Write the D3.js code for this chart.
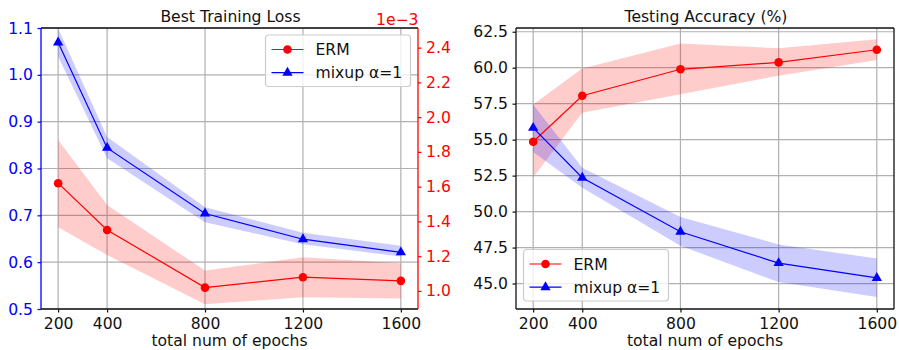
<!DOCTYPE html>
<html>
<head>
<meta charset="utf-8">
<script src="https://cdn.jsdelivr.net/npm/d3@7"></script>
<style>
  body { margin: 0; background: #fff; }
  svg text { font-family: "DejaVu Sans", sans-serif; }
</style>
</head>
<body>
<div id="chart"></div>
<script>
// epochs on the x axis (both panels)
const epochs = [200, 400, 800, 1200, 1600];
const xTicks = [200, 400, 800, 1200, 1600];

// left panel: best training loss
const lossMixup = [1.069, 0.844, 0.704, 0.649, 0.621];
const lossMixupLow = [1.039, 0.822, 0.685, 0.638, 0.612];
const lossMixupHigh = [1.099, 0.867, 0.717, 0.663, 0.635];
// ERM loss is on the twin axis, in units of 1e-3
const lossErm = [1.62, 1.351, 1.019, 1.079, 1.058];
const lossErmLow = [1.366, 1.207, 0.923, 0.964, 0.956];
const lossErmHigh = [1.869, 1.495, 1.117, 1.194, 1.159];
const lossTicks = [0.5, 0.6, 0.7, 0.8, 0.9, 1.0, 1.1];
const lossErmTicks = [1.0, 1.2, 1.4, 1.6, 1.8, 2.0, 2.2, 2.4];

// right panel: testing accuracy (%)
const accErm = [54.85, 58.05, 59.89, 60.37, 61.25];
const accErmLow = [52.37, 56.87, 58.15, 59.45, 60.53];
const accErmHigh = [57.45, 59.95, 61.69, 61.35, 61.97];
const accMixup = [55.82, 52.35, 48.6, 46.42, 45.39];
const accMixupLow = [54.15, 51.65, 47.62, 45.1, 44.07];
const accMixupHigh = [57.45, 53.05, 49.63, 47.72, 46.74];
const accTicks = [45.0, 47.5, 50.0, 52.5, 55.0, 57.5, 60.0, 62.5];

const seriesNames = ['ERM', 'mixup \u03b1=1'];

const RED = '#ff0000';
const BLUE = '#0000ff';
const INK = '#111';
const FS = 15.6;

const svg = d3.select('#chart').append('svg')
    .attr('width', 899)
    .attr('height', 350);

let clipId = 0;

function makePanel(box, title) {
    const g = svg.append('g');
    const x = d3.scaleLinear().domain([130, 1670]).range([box.x0, box.x1]);
    const id = 'clip' + (clipId++);
    svg.append('clipPath').attr('id', id)
        .append('rect')
        .attr('x', box.x0).attr('y', box.y0)
        .attr('width', box.x1 - box.x0).attr('height', box.y1 - box.y0);

    // vertical grid
    g.append('g').selectAll('line')
        .data(xTicks)
        .enter().append('line')
        .attr('x1', d => x(d)).attr('x2', d => x(d))
        .attr('y1', box.y0).attr('y2', box.y1)
        .attr('stroke', '#b0b0b0').attr('stroke-width', 1.2);

    // title
    g.append('text')
        .attr('x', (box.x0 + box.x1) / 2 + 1)
        .attr('y', 21.5)
        .attr('text-anchor', 'middle')
        .attr('font-size', FS)
        .attr('fill', INK)
        .text(title);

    // x axis
    const xAxis = g.append('g')
        .attr('transform', `translate(0,${box.y1})`)
        .call(d3.axisBottom(x).tickValues(xTicks).tickFormat(d3.format('d'))
            .tickSize(3.5).tickPadding(5.4).tickSizeOuter(0));
    xAxis.select('.domain').remove();
    xAxis.selectAll('text').attr('font-size', FS).attr('fill', INK);
    xAxis.selectAll('line').attr('stroke', INK).attr('stroke-width', 1.2);

    g.append('text')
        .attr('x', (box.x0 + box.x1) / 2)
        .attr('y', 346)
        .attr('text-anchor', 'middle')
        .attr('font-size', FS)
        .attr('fill', INK)
        .text('total num of epochs');

    return { g, x, clip: `url(#${id})` };
}

function yGrid(p, y, ticks, box) {
    p.g.append('g').selectAll('line')
        .data(ticks)
        .enter().append('line')
        .attr('x1', box.x0).attr('x2', box.x1)
        .attr('y1', d => y(d)).attr('y2', d => y(d))
        .attr('stroke', '#b0b0b0').attr('stroke-width', 1.2);
}

function yAxis(p, axisFn, y, ticks, box, color, side) {
    const a = p.g.append('g')
        .attr('transform', `translate(${side === 'left' ? box.x0 : box.x1},0)`)
        .call(axisFn(y).tickValues(ticks).tickFormat(d3.format('.1f'))
            .tickSize(3.5).tickPadding(4.5).tickSizeOuter(0));
    a.select('.domain').remove();
    a.selectAll('text').attr('font-size', FS).attr('fill', color);
    a.selectAll('line').attr('stroke', color).attr('stroke-width', 1.2);
}

function band(p, y, low, high, color) {
    const area = d3.area()
        .x((d, i) => p.x(epochs[i]))
        .y0((d, i) => y(low[i]))
        .y1((d, i) => y(high[i]));
    p.g.append('path')
        .datum(epochs)
        .attr('clip-path', p.clip)
        .attr('d', area)
        .attr('fill', color)
        .attr('fill-opacity', 0.2);
}

function markerPath(type) {
    if (type === 'triangle') {
        return d3.symbol().type(d3.symbolTriangle).size(46)();
    }
    return d3.symbol().type(d3.symbolCircle).size(58)();
}

function series(p, y, values, color, type) {
    const line = d3.line()
        .x((d, i) => p.x(epochs[i]))
        .y(d => y(d));
    p.g.append('path')
        .datum(values)
        .attr('d', line)
        .attr('fill', 'none')
        .attr('stroke', color)
        .attr('stroke-width', 1.2);
    p.g.append('g').selectAll('path')
        .data(values)
        .enter().append('path')
        .attr('d', markerPath(type))
        .attr('transform', (d, i) => `translate(${p.x(epochs[i])},${y(d)})`)
        .attr('fill', color);
}

function spines(p, box, colors) {
    const s = p.g.append('g').attr('stroke-width', 1.3).attr('fill', 'none');
    s.append('line').attr('x1', box.x0).attr('x2', box.x1).attr('y1', box.y0).attr('y2', box.y0).attr('stroke', colors.top);
    s.append('line').attr('x1', box.x0).attr('x2', box.x1).attr('y1', box.y1).attr('y2', box.y1).attr('stroke', colors.bottom);
    s.append('line').attr('x1', box.x0).attr('x2', box.x0).attr('y1', box.y0).attr('y2', box.y1).attr('stroke', colors.left);
    s.append('line').attr('x1', box.x1).attr('x2', box.x1).attr('y1', box.y0).attr('y2', box.y1).attr('stroke', colors.right);
}

function legend(p, lx, ly) {
    const lg = p.g.append('g').attr('transform', `translate(${lx},${ly})`);
    lg.append('rect')
        .attr('width', 145).attr('height', 51.5)
        .attr('rx', 3)
        .attr('fill', '#fff').attr('fill-opacity', 0.8)
        .attr('stroke', '#cccccc').attr('stroke-width', 1.2);
    const items = [
        { name: seriesNames[0], color: RED, type: 'circle' },
        { name: seriesNames[1], color: BLUE, type: 'triangle' }
    ];
    items.forEach((it, i) => {
        const cy = 14.5 + i * 23.2;
        lg.append('line')
            .attr('x1', 6).attr('x2', 38)
            .attr('y1', cy).attr('y2', cy)
            .attr('stroke', it.color).attr('stroke-width', 1.2);
        lg.append('path')
            .attr('d', markerPath(it.type))
            .attr('transform', `translate(22,${cy})`)
            .attr('fill', it.color);
        lg.append('text')
            .attr('x', 50).attr('y', cy + 5.6)
            .attr('font-size', FS)
            .attr('fill', INK)
            .text(it.name);
    });
}

// ---- left panel ----
const boxL = { x0: 41, x1: 418, y0: 28, y1: 309 };
const pL = makePanel(boxL, 'Best Training Loss');
const yLoss = d3.scaleLinear().domain([0.5, 1.1]).range([boxL.y1, boxL.y0]);
const yLossErm = d3.scaleLinear().domain([0.896, 2.513]).range([boxL.y1, boxL.y0]);
yGrid(pL, yLoss, lossTicks, boxL);
band(pL, yLoss, lossMixupLow, lossMixupHigh, BLUE);
series(pL, yLoss, lossMixup, BLUE, 'triangle');
band(pL, yLossErm, lossErmLow, lossErmHigh, RED);
series(pL, yLossErm, lossErm, RED, 'circle');
yAxis(pL, d3.axisLeft, yLoss, lossTicks, boxL, BLUE, 'left');
yAxis(pL, d3.axisRight, yLossErm, lossErmTicks, boxL, RED, 'right');
spines(pL, boxL, { top: INK, bottom: INK, left: BLUE, right: RED });
pL.g.append('text')
    .attr('x', boxL.x1 + 0.5).attr('y', 25)
    .attr('text-anchor', 'end')
    .attr('font-size', FS)
    .attr('fill', RED)
    .text('1e\u22123');
legend(pL, 265.5, 35);

// ---- right panel ----
const boxR = { x0: 516, x1: 894, y0: 28, y1: 309 };
const pR = makePanel(boxR, 'Testing Accuracy (%)');
const yAcc = d3.scaleLinear().domain([43.23, 62.76]).range([boxR.y1, boxR.y0]);
yGrid(pR, yAcc, accTicks, boxR);
band(pR, yAcc, accErmLow, accErmHigh, RED);
band(pR, yAcc, accMixupLow, accMixupHigh, BLUE);
series(pR, yAcc, accErm, RED, 'circle');
series(pR, yAcc, accMixup, BLUE, 'triangle');
yAxis(pR, d3.axisLeft, yAcc, accTicks, boxR, INK, 'left');
spines(pR, boxR, { top: INK, bottom: INK, left: INK, right: INK });
legend(pR, 523.5, 249.5);
</script>
</body>
</html>
